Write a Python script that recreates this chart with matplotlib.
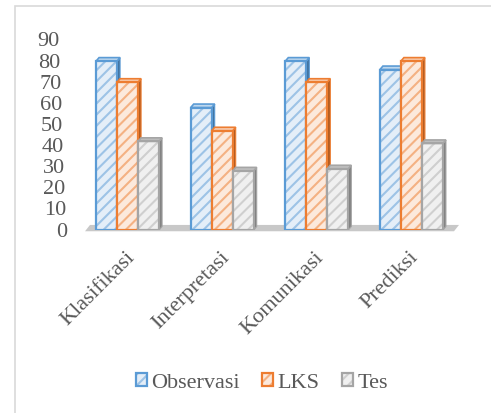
import matplotlib.pyplot as plt
import matplotlib.transforms as mtransforms
from matplotlib.patches import Polygon, Rectangle
import numpy as np

categories = ['Klasifikasi', 'Interpretasi', 'Komunikasi', 'Prediksi']
series_names = ['Observasi', 'LKS', 'Tes']
observasi = [80, 58, 80, 76]
lks = [70, 47, 70, 80]
tes = [42, 28, 29, 41]
yticks = [0, 10, 20, 30, 40, 50, 60, 70, 80, 90]

# edge, fill, hatch stripes, top face, side face
styles = [('#5B9BD5', '#E4EEF8', '#9DC3E6', '#BDD7EE', '#41719C'),
          ('#ED7D31', '#FCE9DC', '#F4B183', '#F8CBAD', '#AE5A21'),
          ('#A5A5A5', '#F0F0F0', '#CFCFCF', '#BFBFBF', '#7F7F7F')]

plt.rcParams['font.family'] = 'serif'
plt.rcParams['font.serif'] = ['Liberation Serif', 'DejaVu Serif']
plt.rcParams['hatch.linewidth'] = 1.5

fig = plt.figure(figsize=(4.91, 4.13), dpi=100)
ax = fig.add_axes([85 / 491, 1 - 230 / 413, 369 / 491, 190 / 413])
ax.set_xlim(-0.45, 3.45)
ax.set_ylim(0, 90)
ax.axis('off')

# light frame around the chart area
fig.add_artist(Rectangle((15 / 491, -0.1), 1.5, 1.1 - 6 / 413,
                         transform=fig.transFigure, fill=False,
                         edgecolor='#D9D9D9', linewidth=1.2))

px_x = 3.9 / 369          # data units per pixel
px_y = 90 / 190

# floor slab behind the bars
floor = Polygon([(-0.45, -0.6), (3.45, -0.6), (3.45 + 5 * px_x, 2.4),
                 (-0.45 + 5 * px_x, 2.4)], closed=True,
                facecolor='#C8C8C8', edgecolor='none', clip_on=False, zorder=1)
ax.add_patch(floor)

x = np.arange(len(categories))
width = 0.222
dx, dy = 3 * px_x, 3.5 * px_y
handles = []
for k, vals in enumerate([observasi, lks, tes]):
    edge, fill, stripe, topc, sidec = styles[k]
    pos = x + (k - 1) * width
    z = 3 + k
    hb = ax.bar(pos, vals, width, color=fill, hatch='///', edgecolor=stripe,
                linewidth=0, zorder=z)
    ob = ax.bar(pos, vals, width, fill=False, edgecolor=edge,
                linewidth=1.6, zorder=z + 0.2)
    for p, v in zip(pos, vals):
        x0, x1 = p - width / 2, p + width / 2
        side = Polygon([(x1, 0), (x1, v), (x1 + dx, v + dy), (x1 + dx, dy)],
                       closed=True, facecolor=sidec, edgecolor=edge,
                       linewidth=0.8, zorder=z + 0.1)
        top = Polygon([(x0, v), (x1, v), (x1 + dx, v + dy), (x0 + dx, v + dy)],
                      closed=True, facecolor=topc, edgecolor=edge,
                      linewidth=1.2, zorder=z + 0.1)
        ax.add_patch(side)
        ax.add_patch(top)
    handles.append((hb, ob))

# y labels drift slightly to the right going down
trans = mtransforms.blended_transform_factory(ax.transAxes, ax.transData)
for v in yticks:
    shift = -25 + 7 * (90 - v) / 90
    off = mtransforms.ScaledTranslation(shift / 100, -2 / 100, fig.dpi_scale_trans)
    ax.text(0, v, str(v), transform=trans + off, ha='right', va='center',
            fontsize=16, color='#595959')

for i, name in enumerate(categories):
    off = mtransforms.ScaledTranslation(11 / 100, -18 / 100, fig.dpi_scale_trans)
    ax.text(i, 0, name, transform=ax.transData + off, rotation=45,
            ha='right', va='top', fontsize=16, color='#595959')

leg = fig.legend(handles, series_names, loc='center', ncol=3,
                 bbox_to_anchor=(262 / 491, 1 - 383 / 413), frameon=False,
                 fontsize=16, handlelength=0.5, handleheight=0.5,
                 handletextpad=0.2, columnspacing=1.0, borderaxespad=0)
for t in leg.get_texts():
    t.set_color('#595959')

fig.savefig('out.png', dpi=100)
